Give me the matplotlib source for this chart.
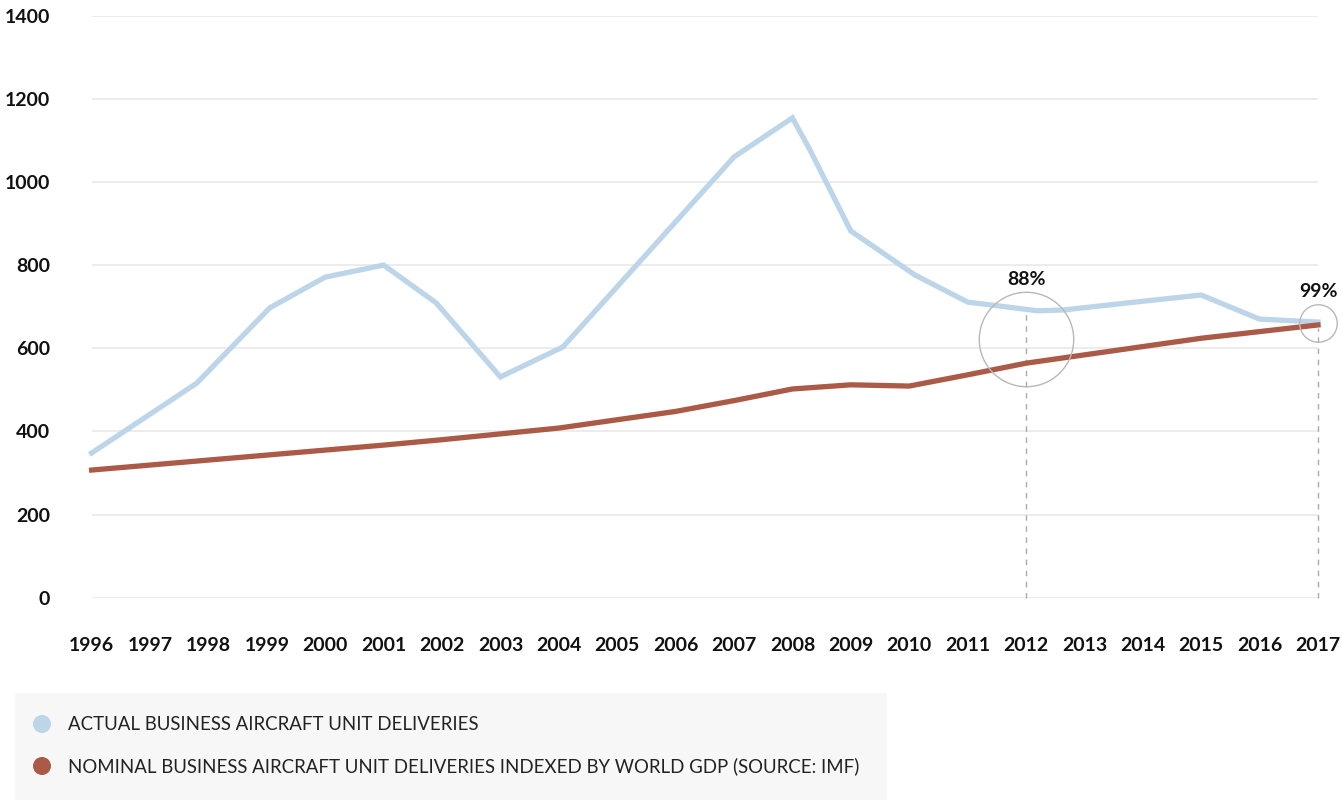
import matplotlib
matplotlib.use("Agg")
import matplotlib.pyplot as plt
from matplotlib.patches import Rectangle, Ellipse

# ---- data ----
years = list(range(1996, 2018))
actual_x = [1996, 1997.8, 1999.05, 2000, 2001, 2001.9, 2003, 2004.07, 2007, 2008,
            2008.3, 2009, 2010.1, 2011, 2012.2, 2012.64, 2014, 2015, 2016, 2017]
actual_y = [348, 516, 697, 771, 800, 709, 531, 603, 1060, 1154,
            1077, 882, 776, 711, 690, 692, 713, 728, 670, 663]
nominal_x = years
nominal_y = [307, 319, 331, 343, 355, 367, 380, 394, 408, 428, 448, 474, 502,
             512, 509, 536, 564, 584, 604, 624, 640, 656]
yticks = [0, 200, 400, 600, 800, 1000, 1200, 1400]
callout_years = [2012, 2017]
callout_centers = [622, 661]
callout_text = ["88%", "99%"]
callout_text_y = [766, 737]
callout_line_top = [692, 649]
legend_labels = ["ACTUAL BUSINESS AIRCRAFT UNIT DELIVERIES",
                 "NOMINAL BUSINESS AIRCRAFT UNIT DELIVERIES INDEXED BY WORLD GDP (SOURCE: IMF)"]

BLUE = "#bdd5e8"
RED = "#aa5a46"
FONT = "Lato"

W, H = 1342, 802
fig = plt.figure(figsize=(W / 100, H / 100), dpi=100)
ax = fig.add_axes([91.6 / W, 1 - 597.7 / H, (1318 - 91.6) / W, (597.7 - 15.6) / H])

ax.set_xlim(1996, 2017)
ax.set_ylim(0, 1400)
ax.set_yticks(yticks)
ax.set_xticks(years)
ax.grid(axis="y", color="#e9e9e9", linewidth=1.2)
ax.set_axisbelow(True)
for s in ax.spines.values():
    s.set_visible(False)
ax.tick_params(length=0)
ax.tick_params(axis="y", pad=30)
ax.tick_params(axis="x", pad=28)
for lab in ax.get_yticklabels() + ax.get_xticklabels():
    lab.set_fontfamily(FONT)
    lab.set_fontweight("bold")
    lab.set_fontsize(14)
    lab.set_color("#111111")

# dashed guide lines
for yr, top in zip(callout_years, callout_line_top):
    ax.vlines(yr, 0, top, colors="#aaaaaa", linewidth=1, linestyles=(0, (4, 4)),
              zorder=1, clip_on=False)

ax.plot(actual_x, actual_y, color=BLUE, linewidth=3.8, solid_joinstyle="miter", zorder=3, clip_on=False)
ax.plot(nominal_x, nominal_y, color=RED, linewidth=3.8, solid_joinstyle="miter", zorder=4, clip_on=False)

# callout circles
for yr, c, ms in zip(callout_years, callout_centers, [68, 27]):
    ax.plot([yr], [c], marker="o", ms=ms, mfc="none", mec="#b8b8b8", mew=1.0, zorder=5, clip_on=False)
for yr, t, ty in zip(callout_years, callout_text, callout_text_y):
    ax.text(yr, ty, t, ha="center", va="center", fontsize=14, fontweight="bold",
            family=FONT, color="#111111", clip_on=False)

# legend box
fig.patches.append(Rectangle((15 / W, 1 - 800 / H), (887 - 15) / W, (800 - 693) / H,
                             transform=fig.transFigure, facecolor="#f7f7f7", edgecolor="none"))
for i, (lab, col) in enumerate(zip(legend_labels, [BLUE, RED])):
    yy = [724, 766][i]
    fig.patches.append(Ellipse((42 / W, 1 - yy / H), 18 / W, 18 / H,
                               transform=fig.transFigure, facecolor=col, edgecolor="none"))
    fig.text(68 / W, 1 - yy / H, lab, ha="left", va="center", fontsize=13.4,
             family=FONT, color="#222222")

fig.savefig("out.png", dpi=100)
